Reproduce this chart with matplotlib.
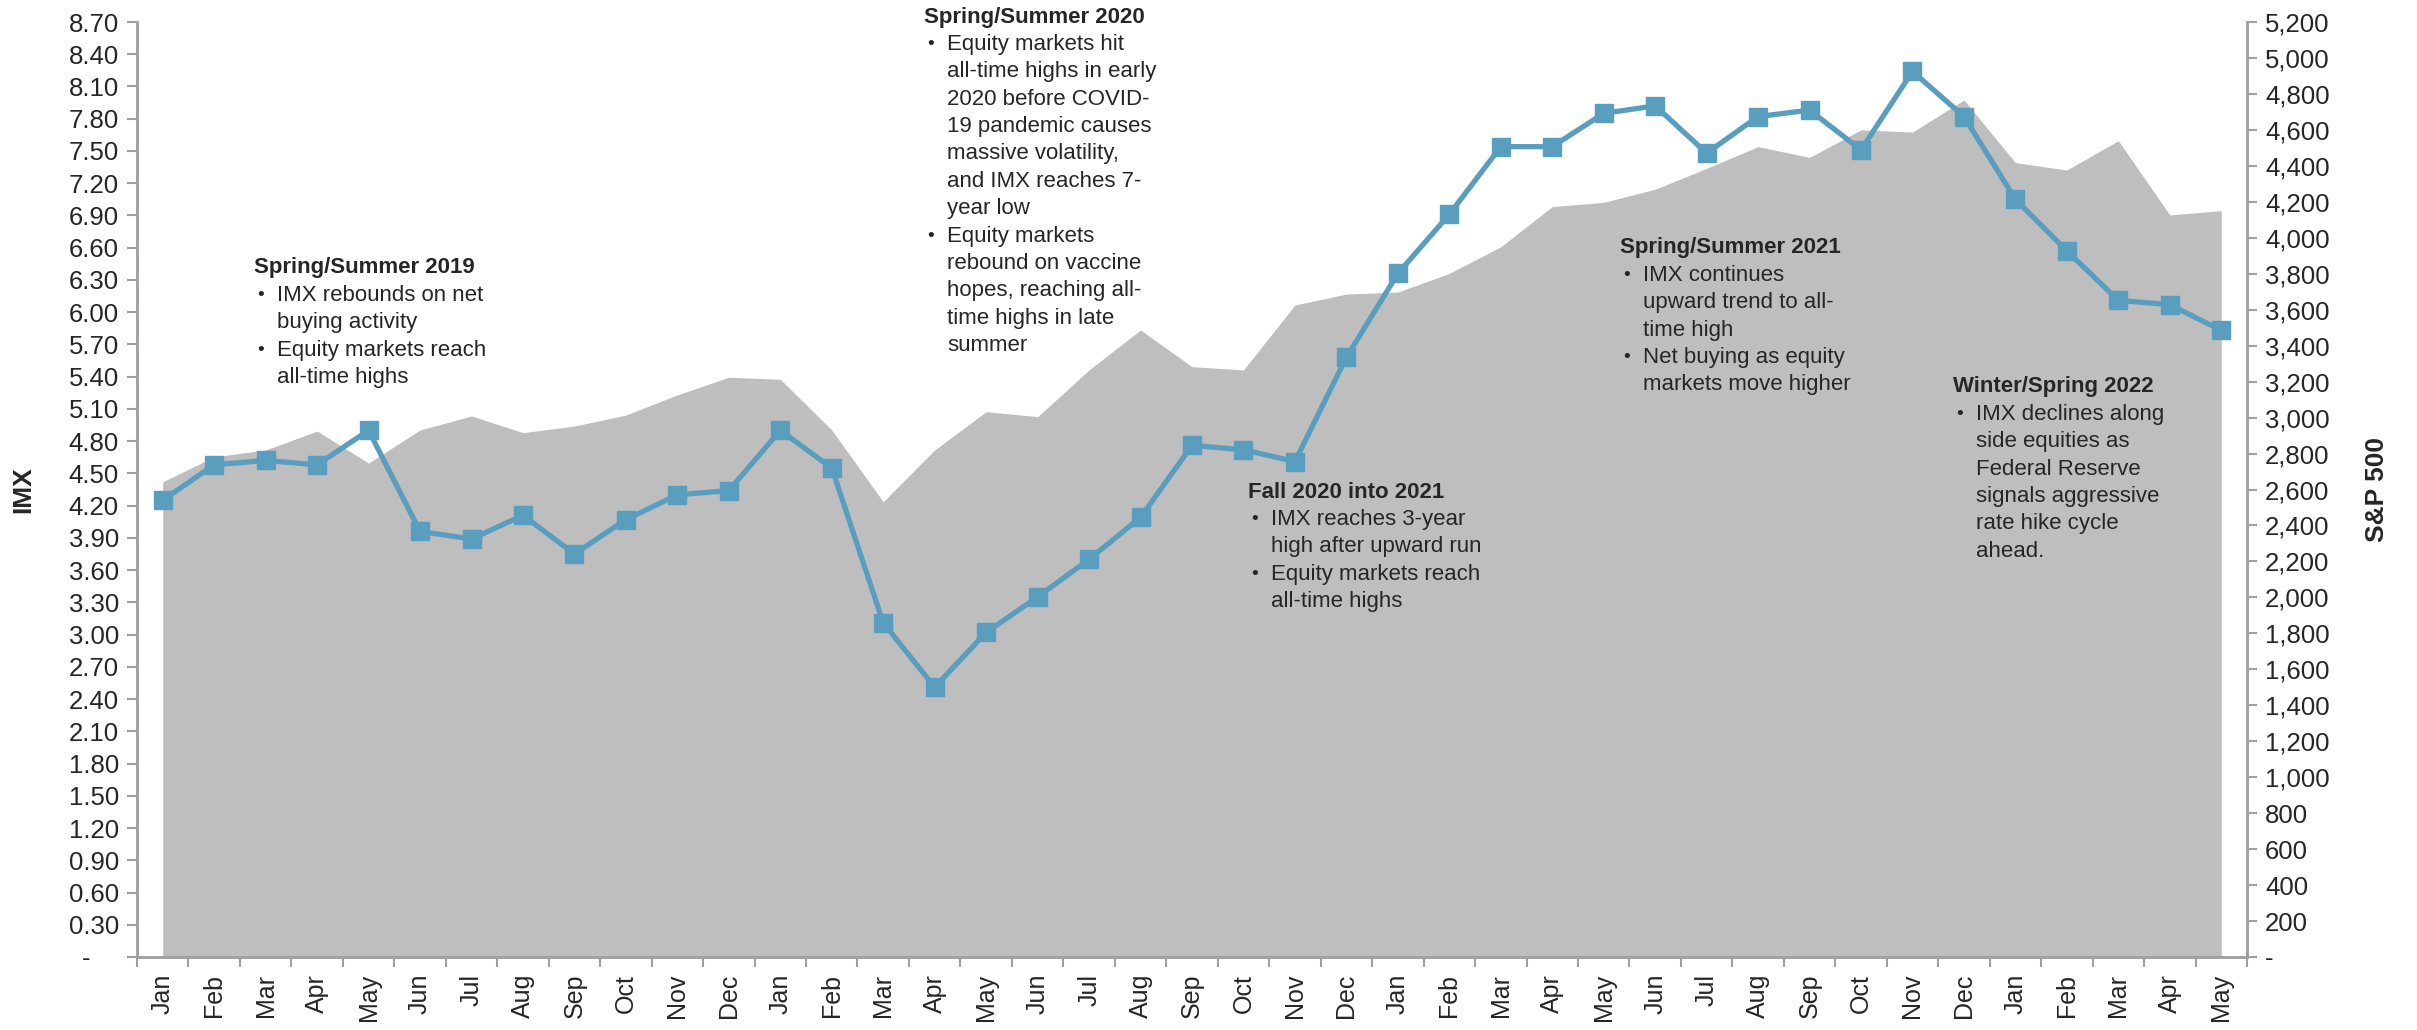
import numpy as np
import matplotlib
matplotlib.use("Agg")
import matplotlib.pyplot as plt
from matplotlib.ticker import FixedLocator, FuncFormatter

plt.rcParams['font.family'] = ['Liberation Sans', 'DejaVu Sans']

months = ['Jan', 'Feb', 'Mar', 'Apr', 'May', 'Jun', 'Jul', 'Aug', 'Sep', 'Oct', 'Nov', 'Dec',
          'Jan', 'Feb', 'Mar', 'Apr', 'May', 'Jun', 'Jul', 'Aug', 'Sep', 'Oct', 'Nov', 'Dec',
          'Jan', 'Feb', 'Mar', 'Apr', 'May', 'Jun', 'Jul', 'Aug', 'Sep', 'Oct', 'Nov', 'Dec',
          'Jan', 'Feb', 'Mar', 'Apr', 'May']

# IMX (left axis)
imx = [4.25, 4.58, 4.62, 4.58, 4.90, 3.96, 3.89, 4.11, 3.75, 4.07, 4.30, 4.34,
       4.90, 4.55, 3.11, 2.51, 3.02, 3.35, 3.70, 4.09, 4.76, 4.72, 4.61, 5.58,
       6.36, 6.91, 7.54, 7.54, 7.85, 7.92, 7.48, 7.82, 7.88, 7.51, 8.24, 7.82,
       7.05, 6.57, 6.11, 6.07, 5.83]

# S&P 500 (right axis)
sp500 = [2643, 2782, 2820, 2925, 2747, 2931, 3009, 2916, 2953, 3014, 3126, 3224,
         3213, 2931, 2532, 2820, 3033, 3005, 3265, 3487, 3283, 3265, 3626, 3687,
         3698, 3802, 3950, 4173, 4197, 4270, 4386, 4507, 4447, 4600, 4588, 4766,
         4418, 4377, 4540, 4127, 4151]

notes = [
    (254, 268, 'Spring/Summer 2019',
     [['IMX rebounds on net', 'buying activity'],
      ['Equity markets reach', 'all-time highs']]),
    (924, 17, 'Spring/Summer 2020',
     [['Equity markets hit', 'all-time highs in early', '2020 before COVID-',
       '19 pandemic causes', 'massive volatility,', 'and IMX reaches 7-', 'year low'],
      ['Equity markets', 'rebound on vaccine', 'hopes, reaching all-',
       'time highs in late', 'summer']]),
    (1248, 492, 'Fall 2020 into 2021',
     [['IMX reaches 3-year', 'high after upward run'],
      ['Equity markets reach', 'all-time highs']]),
    (1620, 248, 'Spring/Summer 2021',
     [['IMX continues', 'upward trend to all-', 'time high'],
      ['Net buying as equity', 'markets move higher']]),
    (1953, 387, 'Winter/Spring 2022',
     [['IMX declines along', 'side equities as', 'Federal Reserve',
       'signals aggressive', 'rate hike cycle', 'ahead.']]),
]

W, H = 2417, 1030
fig = plt.figure(figsize=(W / 100, H / 100), dpi=100)
fig.patch.set_facecolor('white')

left, right, top, bottom = 137, 2247, 22, 957
ax = fig.add_axes([left / W, 1 - bottom / H, (right - left) / W, (bottom - top) / H])
ax2 = ax.twinx()
ax.set_zorder(ax2.get_zorder() + 1)
ax.patch.set_visible(False)

x = np.arange(len(months))
text_col = '#262626'
spine_col = '#A0A0A0'

ax2.fill_between(x, 0, sp500, color='#BEBEBE', lw=0, zorder=1)
ax.plot(x, imx, color='#599EBF', lw=3.8, marker='s', markersize=13, zorder=3)

ax.set_xlim(-0.5, len(months) - 0.5)
ax.set_ylim(0, 8.7)
ax2.set_ylim(0, 5200)

ax.set_yticks(np.arange(0, 8.71, 0.3))
ax.yaxis.set_major_formatter(FuncFormatter(lambda v, p: '-    ' if abs(v) < 1e-9 else f'{v:.2f}'))
ax2.set_yticks(np.arange(0, 5201, 200))
ax2.yaxis.set_major_formatter(FuncFormatter(lambda v, p: '-' if abs(v) < 1e-9 else f'{int(v):,}'))

ax.xaxis.set_major_locator(FixedLocator(np.arange(-0.5, len(months), 1.0)))
ax.xaxis.set_major_formatter(FuncFormatter(lambda v, p: ''))
ax.xaxis.set_minor_locator(FixedLocator(x))
ax.set_xticklabels(months, minor=True, rotation=90, fontsize=18, color=text_col)
ax.tick_params(axis='x', which='minor', length=0, pad=12)
ax.tick_params(axis='x', which='major', length=7, width=1.5, color=spine_col, direction='out')

ax.tick_params(axis='y', length=7, width=1.5, color=spine_col, labelsize=18.5,
               labelcolor=text_col, pad=6)
ax2.tick_params(axis='y', length=7, width=1.5, color=spine_col, labelsize=18.5,
                labelcolor=text_col, pad=6)

for a in (ax, ax2):
    for s in ('top',):
        a.spines[s].set_visible(False)
    for s in ('left', 'right', 'bottom'):
        a.spines[s].set_color(spine_col)
        a.spines[s].set_linewidth(1.8)

fig.text(23 / W, 1 - 490 / H, 'IMX', rotation=90, fontsize=19, fontweight='bold',
         ha='center', va='center', color=text_col)
fig.text(2377 / W, 1 - 490 / H, 'S&P 500', rotation=90, fontsize=19, fontweight='bold',
         ha='center', va='center', color=text_col)

# annotation blocks
line_h = 27.4
for nx, ny, title, bullets in notes:
    fig.text(nx / W, 1 - ny / H, title, fontsize=16, fontweight='bold', color=text_col,
             ha='left', va='center')
    yy = ny
    for b in bullets:
        for i, ln in enumerate(b):
            yy += line_h
            if i == 0:
                fig.text((nx + 3) / W, 1 - yy / H, '•', fontsize=14, color=text_col,
                         ha='left', va='center')
            fig.text((nx + 23) / W, 1 - yy / H, ln, fontsize=16, color=text_col,
                     ha='left', va='center')

fig.savefig('out.png', dpi=100, facecolor='white')
